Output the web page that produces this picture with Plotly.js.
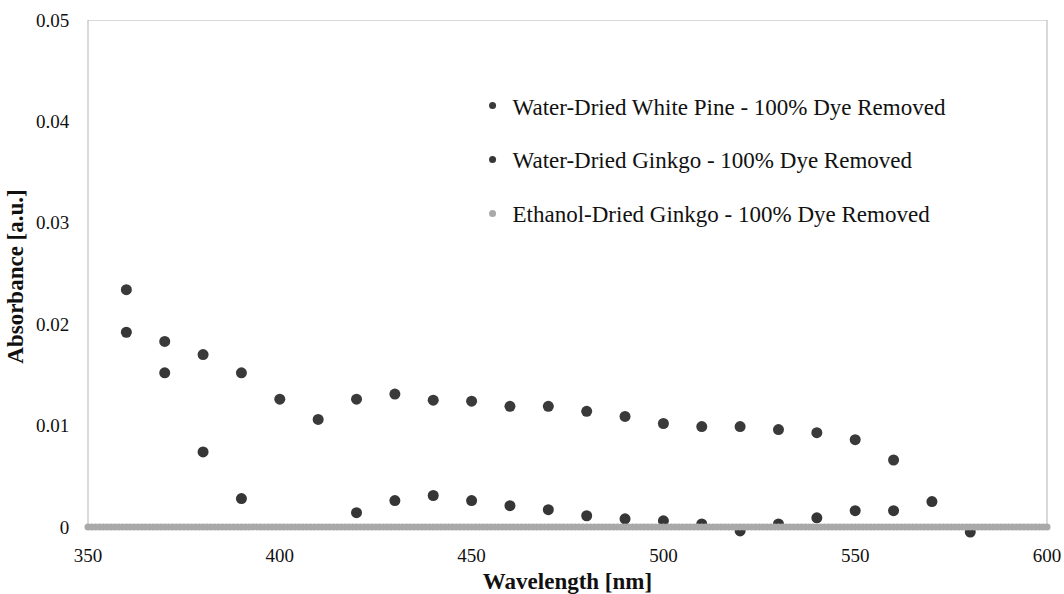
<!DOCTYPE html>
<html>
<head>
<meta charset="utf-8">
<script src="https://cdn.plot.ly/plotly-3.0.1.min.js"></script>
<style>
  html, body { margin: 0; padding: 0; background: #ffffff; }
  #chart { width: 1064px; height: 594px; }
</style>
</head>
<body>
<div id="chart"></div>
<script>
// Absorbance of the rinse solution after full dye removal, by sample
const seriesNames = [
  'Water-Dried White Pine - 100% Dye Removed',
  'Water-Dried Ginkgo - 100% Dye Removed',
  'Ethanol-Dried Ginkgo - 100% Dye Removed'
];

// Wavelengths [nm] for the two water-dried samples
const waterWavelength = [360, 370, 380, 390, 400, 410, 420, 430, 440, 450, 460,
  470, 480, 490, 500, 510, 520, 530, 540, 550, 560, 570, 580];

// Absorbance [a.u.]
const whitePineAbs = [0.0234, 0.0183, 0.0170, 0.0152, 0.0126, 0.0106, 0.0126,
  0.0131, 0.0125, 0.0124, 0.0119, 0.0119, 0.0114, 0.0109, 0.0102, 0.0099,
  0.0099, 0.0096, 0.0093, 0.0086, 0.0066, null, null];

const waterGinkgoAbs = [0.0192, 0.0152, 0.0074, 0.0028, null, null, 0.0014,
  0.0026, 0.0031, 0.0026, 0.0021, 0.0017, 0.0011, 0.0008, 0.0006, 0.0003,
  -0.0004, 0.0003, 0.0009, 0.0016, 0.0016, 0.0025, -0.0005];

// Ethanol-dried sample, scanned every 1 nm
const ethanolWavelength = [
  350, 351, 352, 353, 354, 355, 356, 357, 358, 359,
  360, 361, 362, 363, 364, 365, 366, 367, 368, 369,
  370, 371, 372, 373, 374, 375, 376, 377, 378, 379,
  380, 381, 382, 383, 384, 385, 386, 387, 388, 389,
  390, 391, 392, 393, 394, 395, 396, 397, 398, 399,
  400, 401, 402, 403, 404, 405, 406, 407, 408, 409,
  410, 411, 412, 413, 414, 415, 416, 417, 418, 419,
  420, 421, 422, 423, 424, 425, 426, 427, 428, 429,
  430, 431, 432, 433, 434, 435, 436, 437, 438, 439,
  440, 441, 442, 443, 444, 445, 446, 447, 448, 449,
  450, 451, 452, 453, 454, 455, 456, 457, 458, 459,
  460, 461, 462, 463, 464, 465, 466, 467, 468, 469,
  470, 471, 472, 473, 474, 475, 476, 477, 478, 479,
  480, 481, 482, 483, 484, 485, 486, 487, 488, 489,
  490, 491, 492, 493, 494, 495, 496, 497, 498, 499,
  500, 501, 502, 503, 504, 505, 506, 507, 508, 509,
  510, 511, 512, 513, 514, 515, 516, 517, 518, 519,
  520, 521, 522, 523, 524, 525, 526, 527, 528, 529,
  530, 531, 532, 533, 534, 535, 536, 537, 538, 539,
  540, 541, 542, 543, 544, 545, 546, 547, 548, 549,
  550, 551, 552, 553, 554, 555, 556, 557, 558, 559,
  560, 561, 562, 563, 564, 565, 566, 567, 568, 569,
  570, 571, 572, 573, 574, 575, 576, 577, 578, 579,
  580, 581, 582, 583, 584, 585, 586, 587, 588, 589,
  590, 591, 592, 593, 594, 595, 596, 597, 598, 599,
  600
];

const ethanolGinkgoAbs = [
  0, 0, 0, 0, 0, 0, 0, 0, 0, 0,
  0, 0, 0, 0, 0, 0, 0, 0, 0, 0,
  0, 0, 0, 0, 0, 0, 0, 0, 0, 0,
  0, 0, 0, 0, 0, 0, 0, 0, 0, 0,
  0, 0, 0, 0, 0, 0, 0, 0, 0, 0,
  0, 0, 0, 0, 0, 0, 0, 0, 0, 0,
  0, 0, 0, 0, 0, 0, 0, 0, 0, 0,
  0, 0, 0, 0, 0, 0, 0, 0, 0, 0,
  0, 0, 0, 0, 0, 0, 0, 0, 0, 0,
  0, 0, 0, 0, 0, 0, 0, 0, 0, 0,
  0, 0, 0, 0, 0, 0, 0, 0, 0, 0,
  0, 0, 0, 0, 0, 0, 0, 0, 0, 0,
  0, 0, 0, 0, 0, 0, 0, 0, 0, 0,
  0, 0, 0, 0, 0, 0, 0, 0, 0, 0,
  0, 0, 0, 0, 0, 0, 0, 0, 0, 0,
  0, 0, 0, 0, 0, 0, 0, 0, 0, 0,
  0, 0, 0, 0, 0, 0, 0, 0, 0, 0,
  0, 0, 0, 0, 0, 0, 0, 0, 0, 0,
  0, 0, 0, 0, 0, 0, 0, 0, 0, 0,
  0, 0, 0, 0, 0, 0, 0, 0, 0, 0,
  0, 0, 0, 0, 0, 0, 0, 0, 0, 0,
  0, 0, 0, 0, 0, 0, 0, 0, 0, 0,
  0, 0, 0, 0, 0, 0, 0, 0, 0, 0,
  0, 0, 0, 0, 0, 0, 0, 0, 0, 0,
  0, 0, 0, 0, 0, 0, 0, 0, 0, 0,
  0
];

const xTicks = [350, 400, 450, 500, 550, 600];
const yTicks = [0, 0.01, 0.02, 0.03, 0.04, 0.05];

const seriesColors = ['#3a3a3a', '#363636', '#a9a9a9'];
const serif = 'Times New Roman, Liberation Serif, DejaVu Serif, serif';
const inkColor = '#111111';
const frameColor = '#b3b3b3';

// Data traces (legend entries are drawn by the small-marker copies below)
const dataTraces = [
  { x: waterWavelength, y: whitePineAbs, color: seriesColors[0], size: 11 },
  { x: waterWavelength, y: waterGinkgoAbs, color: seriesColors[1], size: 11 },
  { x: ethanolWavelength, y: ethanolGinkgoAbs, color: seriesColors[2], size: 7 }
].map((s, i) => ({
  type: 'scatter',
  mode: 'markers',
  x: s.x,
  y: s.y,
  name: seriesNames[i],
  showlegend: false,
  cliponaxis: false,
  hoverinfo: 'x+y+name',
  marker: { color: s.color, size: s.size, line: { width: 0 } }
}));

const legendTraces = seriesNames.map((name, i) => ({
  type: 'scatter',
  mode: 'markers',
  x: [null],
  y: [null],
  name: name,
  legendgroup: 'g' + i,
  showlegend: true,
  marker: { color: seriesColors[i], size: 7 }
}));

// The value axis reaches a hair below zero so that slightly negative
// readings stay visible; the frame is drawn from zero upward.
const yMin = -0.0006;
const yMax = 0.05;

const layout = {
  width: 1064,
  height: 594,
  paper_bgcolor: '#ffffff',
  plot_bgcolor: '#ffffff',
  margin: { l: 88, r: 17, t: 20, b: 61 },
  font: { family: serif, color: inkColor, size: 19 },
  showlegend: true,
  legend: {
    x: 0.401, y: 0.875, xanchor: 'left', yanchor: 'top',
    bgcolor: 'rgba(0,0,0,0)',
    font: { family: serif, size: 23, color: inkColor },
    tracegroupgap: 21,
    itemclick: false
  },
  xaxis: {
    range: [350, 600],
    tickmode: 'array',
    tickvals: xTicks,
    ticktext: xTicks.map(String),
    ticks: 'outside', ticklen: 5, tickcolor: 'rgba(0,0,0,0)',
    showgrid: false, zeroline: false, showline: false,
    automargin: false,
    tickfont: { family: serif, size: 19, color: inkColor },
    title: { text: '<b>Wavelength [nm]</b>', font: { family: serif, size: 23, color: inkColor }, standoff: 13 }
  },
  yaxis: {
    range: [yMin, yMax],
    tickmode: 'array',
    tickvals: yTicks,
    ticktext: yTicks.map(String),
    ticks: 'outside', ticklen: 14, tickcolor: 'rgba(0,0,0,0)',
    showgrid: false, zeroline: false, showline: false,
    automargin: false,
    tickfont: { family: serif, size: 19, color: inkColor },
    title: { text: '<b>Absorbance [a.u.]</b>', font: { family: serif, size: 23, color: inkColor }, standoff: 5 }
  },
  shapes: [
    // left, top and right edges of the plotting frame
    { type: 'line', xref: 'paper', yref: 'y', x0: 0, x1: 0, y0: 0, y1: yMax, line: { color: frameColor, width: 1 }, layer: 'below' },
    { type: 'line', xref: 'paper', yref: 'y', x0: 0, x1: 1, y0: yMax, y1: yMax, line: { color: frameColor, width: 1 }, layer: 'below' },
    { type: 'line', xref: 'paper', yref: 'y', x0: 1, x1: 1, y0: 0, y1: yMax, line: { color: frameColor, width: 1 }, layer: 'below' }
  ]
};

Plotly.newPlot('chart', dataTraces.concat(legendTraces), layout, { displayModeBar: false, staticPlot: true });
</script>
</body>
</html>
